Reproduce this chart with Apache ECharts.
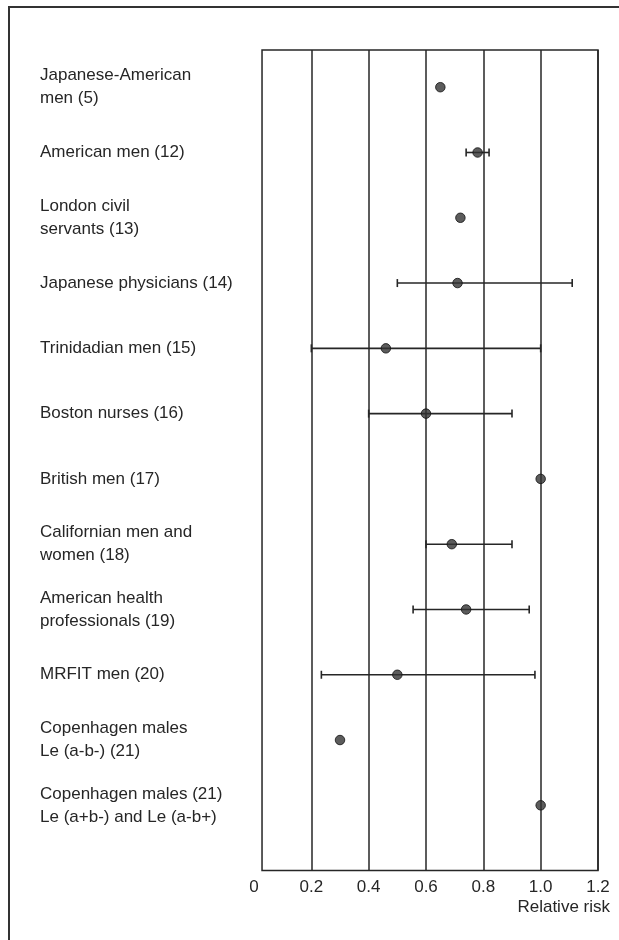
<!DOCTYPE html>
<html>
<head>
<meta charset="utf-8">
<script src="https://cdn.jsdelivr.net/npm/echarts@6/dist/echarts.min.js"></script>
<style>
  html, body { margin: 0; padding: 0; background: #ffffff; }
  #chart { width: 619px; height: 940px; }
</style>
</head>
<body>
<div id="chart"></div>
<script>
// Study populations, top to bottom
const studies = [
  'Japanese-American\nmen (5)',
  'American men (12)',
  'London civil\nservants (13)',
  'Japanese physicians (14)',
  'Trinidadian men (15)',
  'Boston nurses (16)',
  'British men (17)',
  'Californian men and\nwomen (18)',
  'American health\nprofessionals (19)',
  'MRFIT men (20)',
  'Copenhagen males\nLe (a-b-) (21)',
  'Copenhagen males (21)\nLe (a+b-) and Le (a-b+)'
];

// Point estimate of relative risk for each study
const relativeRisk = [0.65, 0.78, 0.72, 0.71, 0.46, 0.60, 1.00, 0.69, 0.74, 0.50, 0.30, 1.00];

// Confidence interval limits (null where none is reported)
const ciLower = [null, 0.74, null, 0.50, 0.20, 0.40, null, 0.60, 0.555, 0.235, null, null];
const ciUpper = [null, 0.82, null, 1.11, 1.00, 0.90, null, 0.90, 0.96, 0.98, null, null];

// Relative-risk tick marks along the bottom
const riskTicks = ['0', '0.2', '0.4', '0.6', '0.8', '1.0', '1.2'];

const FONT = "'Liberation Sans', Arial, Helvetica, sans-serif";
const INK = '#262626';

const rows = studies.map((_, i) => i + 1);
const pointData = relativeRisk.map((v, i) => [v, i + 1]);
const intervalData = [];
ciLower.forEach((lo, i) => {
  if (lo !== null && ciUpper[i] !== null) intervalData.push([lo, ciUpper[i], i + 1]);
});

function renderInterval(params, api) {
  const row = api.value(2);
  const a = api.coord([api.value(0), row]);
  const b = api.coord([api.value(1), row]);
  const cap = 4;
  const style = { stroke: INK, lineWidth: 1.6 };
  return {
    type: 'group',
    children: [
      { type: 'line', shape: { x1: a[0], y1: a[1], x2: b[0], y2: b[1] }, style },
      { type: 'line', shape: { x1: a[0], y1: a[1] - cap, x2: a[0], y2: a[1] + cap }, style },
      { type: 'line', shape: { x1: b[0], y1: b[1] - cap, x2: b[0], y2: b[1] + cap }, style }
    ]
  };
}

const chart = echarts.init(document.getElementById('chart'), null, { renderer: 'canvas' });

chart.setOption({
  backgroundColor: '#ffffff',
  animation: false,
  textStyle: { fontFamily: FONT },
  grid: { left: 254, right: 21, top: 50, bottom: 69.4, containLabel: false },
  xAxis: {
    type: 'value',
    min: 0,
    max: 1.2,
    interval: 0.2,
    axisLine: { show: false },
    axisTick: { show: false },
    axisLabel: {
      margin: 8,
      fontSize: 17,
      color: INK,
      fontFamily: FONT,
      formatter: (v) => riskTicks[Math.round(v / 0.2)] || ''
    },
    splitLine: {
      show: true,
      showMinLine: false,
      lineStyle: { color: INK, width: 1.5 }
    }
  },
  yAxis: {
    type: 'value',
    inverse: true,
    min: 0.43,
    max: 13,
    axisLine: { show: false },
    axisTick: { show: false },
    splitLine: { show: false },
    axisLabel: {
      customValues: rows,
      align: 'left',
      margin: 214,
      fontSize: 17,
      lineHeight: 23,
      color: INK,
      fontFamily: FONT,
      formatter: (v) => studies[Math.round(v) - 1] || ''
    }
  },
  series: [
    {
      type: 'custom',
      name: 'interval',
      renderItem: renderInterval,
      encode: { x: [0, 1], y: 2 },
      data: intervalData,
      z: 3,
      silent: true
    },
    {
      type: 'scatter',
      name: 'relative risk',
      data: pointData,
      symbol: 'circle',
      symbolSize: 9.5,
      itemStyle: { color: '#333333', borderColor: '#111', borderWidth: 1 },
      z: 4,
      silent: true,
      markArea: {
        silent: true,
        label: { show: false },
        itemStyle: { color: 'rgba(0,0,0,0)', borderColor: INK, borderWidth: 1.5 },
        data: [[{ coord: [0.028, 0.43] }, { coord: [1.2, 13] }]]
      }
    }
  ],
  graphic: [
    {
      type: 'polyline',
      shape: { points: [[9, 940], [9, 7], [619, 7]] },
      style: { stroke: '#333', lineWidth: 2, fill: null },
      silent: true
    },
    {
      type: 'text',
      right: 9,
      top: 899,
      style: { text: 'Relative risk', font: '17px ' + FONT, fill: INK }
    }
  ]
});
</script>
</body>
</html>
